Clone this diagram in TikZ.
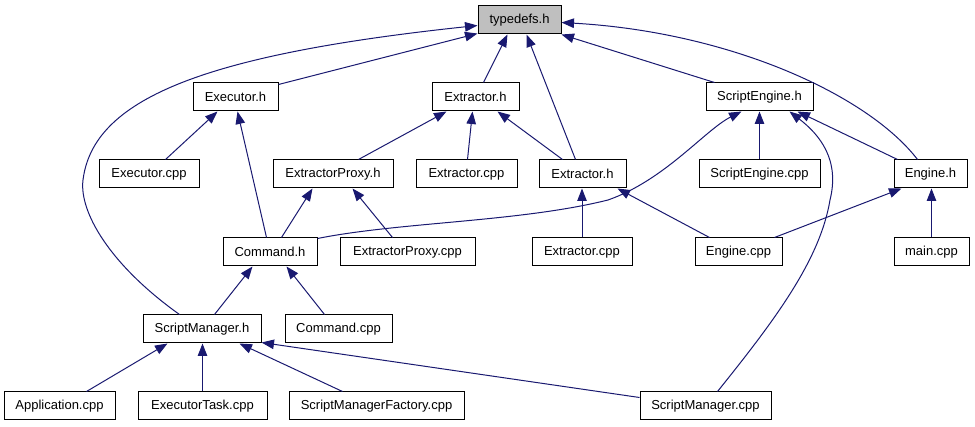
\documentclass[tikz,border=0pt]{standalone}
\usepackage{fontspec}
\setmainfont{Liberation Sans}
\usetikzlibrary{arrows.meta,calc}
\definecolor{edgecol}{RGB}{25,25,112}
\definecolor{rootfill}{RGB}{191,191,191}
\begin{document}
\begin{tikzpicture}[x=1pt,y=-1pt,
  box/.style={draw=black,line width=1pt,fill=white,minimum height=28pt,inner sep=0pt,
    font=\fontsize{13}{15}\selectfont,text=black},
  rootbox/.style={box,fill=rootfill},
  dep/.style={draw=edgecol,line width=1pt,-{Triangle[length=12.5pt,width=9.5pt]}}]
\useasboundingbox (0,0) rectangle (975,427);
% row 1
\node[rootbox,minimum width=83pt] (typedefs) at (519.5,20) {typedefs.h};
% row 2
\node[box,minimum width=85pt] (exech) at (235.5,97) {Executor.h};
\node[box,minimum width=87pt] (extrh1) at (475.5,97) {Extractor.h};
\node[box,minimum width=107pt] (seh) at (759.5,97) {ScriptEngine.h};
% row 3
\node[box,minimum width=100pt] (execpp) at (149,174) {Executor.cpp};
\node[box,minimum width=120pt] (eproxh) at (333,174) {ExtractorProxy.h};
\node[box,minimum width=101pt] (extrcpp1) at (466.5,174) {Extractor.cpp};
\node[box,minimum width=87pt] (extrh2) at (582.5,174) {Extractor.h};
\node[box,minimum width=121pt] (secpp) at (759.5,174) {ScriptEngine.cpp};
\node[box,minimum width=73pt] (engh) at (930.5,174) {Engine.h};
% row 4
\node[box,minimum width=94pt] (cmdh) at (270,252) {Command.h};
\node[box,minimum width=135pt] (eproxcpp) at (407.5,252) {ExtractorProxy.cpp};
\node[box,minimum width=100pt] (extrcpp2) at (582,252) {Extractor.cpp};
\node[box,minimum width=87pt] (engcpp) at (738.5,252) {Engine.cpp};
\node[box,minimum width=75pt] (maincpp) at (931.5,252) {main.cpp};
% row 5
\node[box,minimum width=118pt] (smh) at (202,329) {ScriptManager.h};
\node[box,minimum width=107pt] (cmdcpp) at (338.5,329) {Command.cpp};
% row 6
\node[box,minimum width=111pt] (appcpp) at (59.5,406) {Application.cpp};
\node[box,minimum width=129pt] (exectask) at (202.5,406) {ExecutorTask.cpp};
\node[box,minimum width=175pt] (smfcpp) at (376.5,406) {ScriptManagerFactory.cpp};
\node[box,minimum width=131pt] (smcpp) at (705.5,406) {ScriptManager.cpp};
% edges to typedefs.h
\draw[dep] ($(exech.north east)+(0,2)$) -- ($(typedefs.south west)+(0,-1)$);
\draw[dep] ($(extrh1.north west)+(52,0)$) -- ($(typedefs.south west)+(30,0)$);
\draw[dep] ($(extrh2.north west)+(37,0)$) -- ($(typedefs.south west)+(49,0)$);
\draw[dep] ($(seh.north west)+(9,0)$) -- (typedefs.south east);
\draw[dep] ($(engh.north west)+(24,0)$) .. controls (868,95) and (730,32) .. ($(typedefs.north east)+(0,17)$);
\draw[dep] ($(smh.north west)+(37,0)$) .. controls (110,265) and (79,212) .. (83,180)
   .. controls (93,100) and (200,55) .. ($(typedefs.north west)+(0,20)$);
% Executor.h
\draw[dep] ($(execpp.north west)+(67,0)$) -- ($(exech.south west)+(25,0)$);
\draw[dep] ($(cmdh.north west)+(44,0)$) -- ($(exech.south west)+(45,0)$);
% Extractor.h (1)
\draw[dep] ($(eproxh.north west)+(86,0)$) -- ($(extrh1.south west)+(15,0)$);
\draw[dep] ($(extrcpp1.north west)+(52,0)$) -- ($(extrh1.south west)+(41,0)$);
\draw[dep] ($(extrh2.north west)+(24,0)$) -- ($(extrh1.south west)+(66,0)$);
% ScriptEngine.h
\draw[dep] ($(cmdh.north east)+(0,1)$) .. controls (400,222) and (520,222) .. (608,200)
   .. controls (665,180) and (705,130) .. ($(seh.south west)+(36,0)$);
\draw[dep] (secpp.north) -- (seh.south);
\draw[dep] ($(engh.north west)+(4,0)$) -- ($(seh.south west)+(92,0)$);
\draw[dep] ($(smcpp.north west)+(78,0)$) .. controls (775,320) and (820,260) .. (830,200)
   .. controls (840,160) and (820,135) .. ($(seh.south west)+(84,0)$);
% ExtractorProxy.h
\draw[dep] ($(cmdh.north west)+(59,0)$) -- ($(eproxh.south west)+(40,0)$);
\draw[dep] ($(eproxcpp.north west)+(53,0)$) -- ($(eproxh.south west)+(80,0)$);
% Extractor.h (2)
\draw[dep] (extrcpp2.north) -- (extrcpp2.north |- extrh2.south);
\draw[dep] ($(engcpp.north west)+(15,0)$) -- ($(extrh2.south west)+(79,0)$);
% Engine.h
\draw[dep] ($(engcpp.north west)+(80,0)$) -- ($(engh.south west)+(8,0)$);
\draw[dep] (maincpp.north) -- (maincpp.north |- engh.south);
% Command.h
\draw[dep] ($(smh.north west)+(72,0)$) -- ($(cmdh.south west)+(30,0)$);
\draw[dep] ($(cmdcpp.north west)+(40,0)$) -- ($(cmdh.south west)+(64,0)$);
% ScriptManager.h
\draw[dep] ($(appcpp.north west)+(83,0)$) -- ($(smh.south west)+(25,0)$);
\draw[dep] (exectask.north) -- (exectask.north |- smh.south);
\draw[dep] ($(smfcpp.north west)+(54,0)$) -- ($(smh.south west)+(97,0)$);
\draw[dep] ($(smcpp.north west)+(0,6)$) -- ($(smh.south east)+(0,-1)$);
\end{tikzpicture}
\end{document}
